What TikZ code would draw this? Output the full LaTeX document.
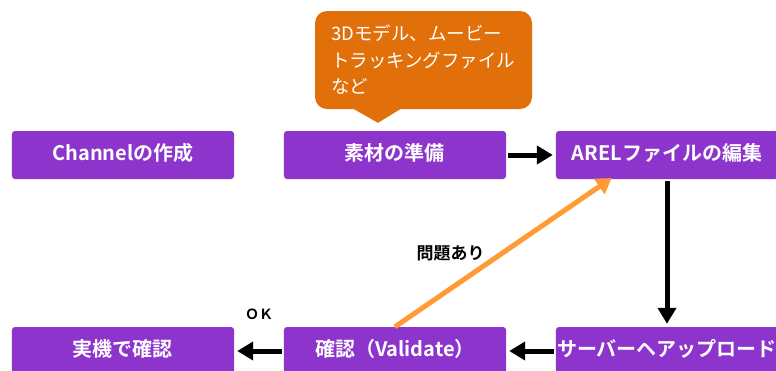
\documentclass[tikz,border=0pt]{standalone}
\usepackage{fontspec}
\newfontfamily\jpfont{Noto Sans CJK JP}[BoldFont={Noto Sans CJK JP Bold}]
\usetikzlibrary{matrix,arrows.meta}
\definecolor{boxpurple}{RGB}{140,52,204}
\definecolor{noteorange}{RGB}{225,112,10}
\definecolor{backorange}{RGB}{255,155,50}
\tikzset{
	stepbox/.style={fill=boxpurple, rounded corners=3pt, minimum width=222pt,
		minimum height=48pt, inner sep=0pt, text height=15pt, text depth=4pt,
		text=white, font=\jpfont\bfseries\fontsize{20}{22}\selectfont},
	flow/.style={-{Triangle[length=16pt,width=18pt]}, line width=5pt,
		shorten >=3pt, shorten <=2pt},
	backflow/.style={-{Triangle[length=15pt,width=18pt]}, line width=5pt,
		draw=backorange, shorten >=-2pt},
	flowlabel/.style={text=black, font=\jpfont\bfseries\fontsize{17}{19}\selectfont}
}

\begin{document}
\begin{tikzpicture}
	\useasboundingbox (0,0) rectangle (776pt,-370pt);
	\matrix (m) [matrix of nodes, row sep=148pt, column sep=50pt,
		nodes={stepbox}] at (395pt,-253pt)
	{
		Channelの作成 & 素材の準備         & ARELファイルの編集 \\
		実機で確認    & 確認（Validate） & サーバーヘアップロード \\
	};
	% note above the second step
	\node (note) [fill=noteorange, rounded corners=12pt, minimum width=217pt,
		minimum height=98pt, text width=185pt, align=left, text=white,
		font=\jpfont\fontsize{18.5}{26.5}\selectfont] at (423.5pt,-60pt)
		{3Dモデル、ムービー\\トラッキングファイル\\など};
	\coordinate (tip) at ([xshift=-17pt,yshift=8pt]m-1-2.north);
	\fill[noteorange] ([xshift=-73pt,yshift=2pt]note.south) -- (tip)
		-- ([xshift=-20pt,yshift=2pt]note.south) -- cycle;
	\path[flow]
	(m-1-2) edge (m-1-3)
	(m-1-3) edge (m-2-3)
	(m-2-3) edge (m-2-2)
	(m-2-2) edge node[above=26pt, flowlabel, font=\jpfont\bfseries\fontsize{14}{16}\selectfont]{ＯＫ} (m-2-1);
	\draw[backflow] (m-2-2.north) -- node[left=12pt, flowlabel]{問題あり} (m-1-3.203);
\end{tikzpicture}
\end{document}
